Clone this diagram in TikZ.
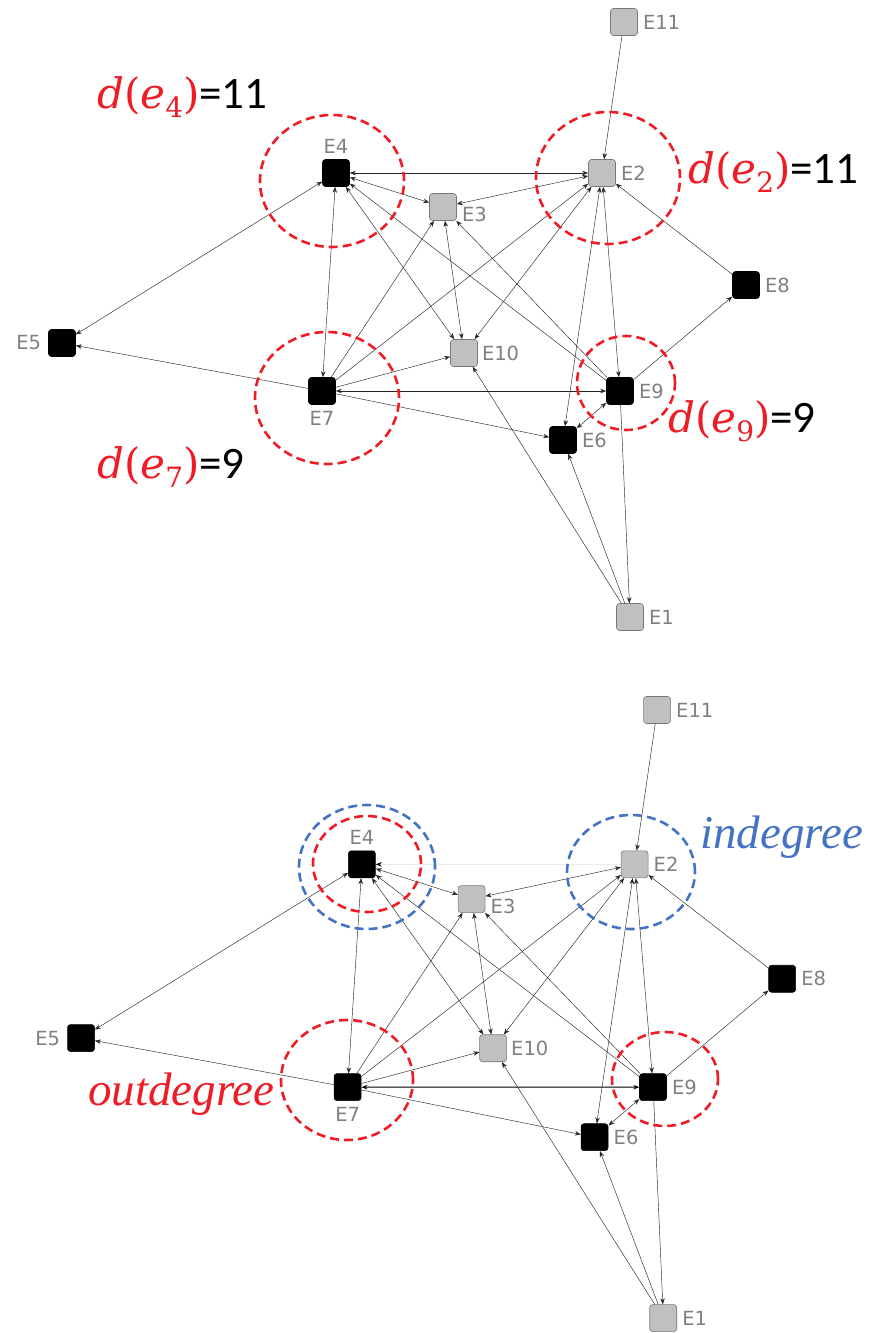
\documentclass[tikz,border=0pt]{standalone}
\usepackage{fontspec}
\usepackage{graphicx}
\usetikzlibrary{arrows.meta}
\newfontfamily\lblfont{DejaVu Sans}
\newfontfamily\calib{Carlito}
\newfontfamily\dvs{DejaVu Serif}
\newfontfamily\lsr{Liberation Serif}
\definecolor{myred}{RGB}{238,28,36}
\definecolor{myblue}{RGB}{68,114,196}
\definecolor{nodegray}{RGB}{192,192,192}
\definecolor{nodeedge}{RGB}{120,120,120}
\definecolor{labgray}{RGB}{128,128,128}
\newcommand\dlab[1]{{\color{myred}\dvs{\itshape d}({\itshape e}\raisebox{-9pt}{\fontsize{28}{28}\selectfont #1})}}
\newcommand\eqn[1]{{\calib\fontsize{45}{48}\selectfont #1}}
\tikzset{
  blk/.style={draw=black, fill=black, minimum size=27pt, rounded corners=3pt, inner sep=0pt, line width=0.6pt},
  gry/.style={draw=nodeedge, fill=nodegray, minimum size=27pt, rounded corners=3pt, inner sep=0pt, line width=0.6pt},
  lab/.style={text=labgray, font=\lblfont\fontsize{19.5}{19.5}\selectfont, inner sep=1pt},
  ed/.style={line width=0.45pt, draw=black!85, -{Stealth[length=6pt,width=4.5pt]}},
  bi/.style={line width=0.45pt, draw=black!85, {Stealth[length=6pt,width=4.5pt]}-{Stealth[length=6pt,width=4.5pt]}},
  tx42/.style={},
  bx42/.style={draw=black!12, arrows={Stealth[length=6pt,width=4.5pt,color=black]-}},
  tx79/.style={},
  bx79/.style={line width=0.9pt, draw=black},
  rc/.style={draw=myred, line width=2.6pt, dash pattern=on 9pt off 5pt},
  bc/.style={draw=myblue, line width=2.6pt, dash pattern=on 9pt off 5pt},
  big/.style={anchor=base west, inner sep=0pt, font=\fontsize{42}{46}\selectfont},
  word/.style={anchor=base west, inner sep=0pt, font=\lsr\itshape\fontsize{47}{50}\selectfont},
}
\newcommand\drawgraph[1]{%
  \node[gry,label={[lab,label distance=4pt]right:E11}] (#1e11) at (624,22) {};
  \node[gry,label={[lab,label distance=4pt]right:E2}] (#1e2) at (602,173) {};
  \node[gry,label={[lab,label distance=4pt,yshift=-7pt]right:E3}] (#1e3) at (443,207) {};
  \node[blk,label={[lab,label distance=5pt]above:E4}] (#1e4) at (336,173) {};
  \node[blk,label={[lab,label distance=6pt]left:E5}] (#1e5) at (62,343) {};
  \node[blk,label={[lab,label distance=4pt]right:E6}] (#1e6) at (563,440) {};
  \node[blk,label={[lab,label distance=5pt]below:E7}] (#1e7) at (322,391) {};
  \node[blk,label={[lab,label distance=4pt]right:E8}] (#1e8) at (746,285) {};
  \node[blk,label={[lab,label distance=4pt]right:E9}] (#1e9) at (620,391) {};
  \node[gry,label={[lab,label distance=3pt]right:E10}] (#1e10) at (464,353) {};
  \node[gry,label={[lab,label distance=4pt]right:E1}] (#1e1) at (630,617) {};
  \draw[ed] (#1e11) -- (#1e2);
  \draw[bi,#1x42] (#1e4) -- (#1e2);
  \draw[bi] (#1e4) -- (#1e3);
  \draw[bi] (#1e3) -- (#1e2);
  \draw[bi] (#1e4) -- (#1e5);
  \draw[ed] (#1e7) -- (#1e5);
  \draw[bi] (#1e4) -- (#1e7);
  \draw[bi] (#1e4) -- (#1e10);
  \draw[ed] (#1e9) -- (#1e4);
  \draw[ed] (#1e7) -- (#1e3);
  \draw[bi] (#1e3) -- (#1e10);
  \draw[ed] (#1e9) -- (#1e3);
  \draw[ed] (#1e7) -- (#1e2);
  \draw[bi] (#1e10) -- (#1e2);
  \draw[bi] (#1e2) -- (#1e6);
  \draw[bi] (#1e9) -- (#1e2);
  \draw[ed] (#1e8) -- (#1e2);
  \draw[ed] (#1e9) -- (#1e8);
  \draw[ed] (#1e7) -- (#1e10);
  \draw[bi,#1x79] (#1e7) -- (#1e9);
  \draw[ed] (#1e7) -- (#1e6);
  \draw[bi] (#1e9) -- (#1e6);
  \draw[ed] (#1e9) -- (#1e1);
  \draw[ed] (#1e1) -- (#1e6);
  \draw[ed] (#1e1) -- (#1e10);
}
\begin{document}
\begin{tikzpicture}[x=1pt,y=-1pt]
  \useasboundingbox (0,0) rectangle (875,1333);
  % top graph
  \drawgraph{t}
  \draw[rc] (332,181) ellipse [x radius=72pt, y radius=66pt];
  \draw[rc] (608,178) ellipse [x radius=72pt, y radius=66pt];
  \draw[rc] (327,398) ellipse [x radius=72pt, y radius=66pt];
  \draw[rc] (626,383) ellipse [x radius=49pt, y radius=47pt];
  \node[big] (de4) at (97,108) {\dlab{4}\eqn{=11}};
  \node[big] (de2) at (688,183) {\dlab{2}\eqn{=11}};
  \node[big] (de7) at (97,478) {\dlab{7}\eqn{=9}};
  \node[big] (de9) at (668,432) {\dlab{9}\eqn{=9}};
  % bottom graph
  \begin{scope}[shift={(17.5,687.5)}, xscale=1.025, yscale=1.022]
    \drawgraph{b}
  \end{scope}
  \draw[bc] (367,867) ellipse [x radius=68pt, y radius=62pt];
  \draw[rc] (367,864) ellipse [x radius=54pt, y radius=48pt];
  \draw[bc] (631,872) ellipse [x radius=64pt, y radius=57pt];
  \draw[rc] (347,1080) ellipse [x radius=66pt, y radius=60pt];
  \draw[rc] (665,1079) ellipse [x radius=53pt, y radius=47pt];
  \node[word, text=myblue] (indeg) at (700,848) {indegree};
  \node[word, text=myred] (outdeg) at (88,1105) {outdegree};
\end{tikzpicture}
\end{document}
